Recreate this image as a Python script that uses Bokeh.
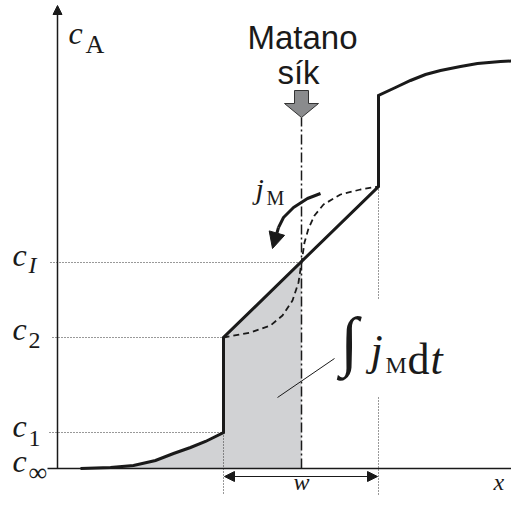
from bokeh.plotting import figure
from bokeh.models import Range1d, Arrow, NormalHead
from bokeh.core.properties import value
from bokeh.embed import file_html
from bokeh.resources import INLINE

# ---- schematic data (x: position, c: concentration, arbitrary units) ----
C_INF = 0
C1 = 36
C2 = 131
CI = 206
C_B_LOW = 282
C_B_HIGH = 373

X1 = 166   # left phase boundary
XM = 244   # Matano plane
X2 = 321   # right phase boundary

left_tail_x = [23, 53, 76, 98, 116, 133, 148, 166]
left_tail_c = [0, 1, 3, 8, 15, 21, 27, 36]
right_tail_x = [321, 338, 353, 368, 383, 403, 420, 443, 468]
right_tail_c = [373, 381, 388, 394, 398, 402, 405, 407, 408]
dashed_x = [166, 193, 213, 225, 235, 241, 244, 247, 251, 257, 266, 283, 303, 321]
dashed_c = [131, 136, 143, 153, 168, 186, 206, 226, 240, 253, 264, 274, 279, 282]
jm_arc_x = [263, 250, 236, 226, 221]
jm_arc_c = [275, 270, 261, 251, 241]

level_labels = ["I", "2", "1", "\u221e"]
level_values = [CI, C2, C1, C_INF]

SERIF = "Liberation Serif"
SANS = "Liberation Sans"
INK = "#1a1a1a"

W, H = 511, 495
p = figure(width=W, height=H,
           x_range=Range1d(-57, -57 + W), y_range=Range1d(468 - H, 468),
           output_backend="svg", toolbar_location=None,
           x_axis_type=None, y_axis_type=None, min_border=0)
p.outline_line_color = None
p.grid.visible = False
p.background_fill_color = "white"
p.border_fill_color = "white"

BASE_FIX = 0.3  # renderer places alphabetic baseline ~0.3em low


def txt(x, y, s, size, italic=False, font=SERIF, align="left", baseline="alphabetic", fix=BASE_FIX):
    p.text(x=[x], y=[y + fix * size], text=[s], text_font=value(font), text_font_size=f"{size}px",
           text_font_style="italic" if italic else "normal",
           text_align=align, text_baseline=baseline, text_color=INK)


# ---- shaded area (integral of j_M dt) ----
fill_x = left_tail_x + [X1, XM, XM, left_tail_x[0]]
fill_c = left_tail_c + [C2, CI, C_INF, C_INF]
p.patch(fill_x, fill_c, fill_color="#d1d2d4", line_color=None)

# ---- dotted guide lines ----
dot = dict(line_color="#333333", line_width=1, line_dash="1 2")
p.line([-7, XM], [CI, CI], **dot)
p.line([-5, X1], [C2, C2], **dot)
p.line([-8, X1], [C1, C1], **dot)
p.line([X1, X1], [C1, -40], **dot)
p.line([X2, X2], [C_B_LOW, 170], **dot)
p.line([X2, X2], [71, -40], **dot)

# ---- axes ----
p.line([-10, 480], [0, 0], line_color=INK, line_width=1.5)
p.add_layout(Arrow(end=NormalHead(size=9, fill_color=INK, line_color=INK, line_width=1),
                   x_start=0, y_start=0, x_end=0, y_end=463,
                   line_color=INK, line_width=1.5))

# ---- concentration profile ----
solid_x = left_tail_x + [X1, X2] + right_tail_x
solid_c = left_tail_c + [C2, C_B_LOW] + right_tail_c
p.line(solid_x, solid_c, line_color=INK, line_width=3, line_join="miter")

# dashed (real) profile
p.line(dashed_x, dashed_c, line_color=INK, line_width=1.8, line_dash="6 4")

# Matano plane
p.line([XM, XM], [C_INF, 351], line_color=INK, line_width=1.5, line_dash="10 3 2 3")

# grey arrow pointing at the Matano plane
aw, hw = 7, 17
p.patch([XM - aw, XM + aw, XM + aw, XM + hw, XM, XM - hw, XM - aw],
        [378, 378, 365, 365, 351, 365, 365],
        fill_color="#8a8b8d", line_color="#333333", line_width=1)

# j_M flux arrow
p.line(jm_arc_x, jm_arc_c, line_color=INK, line_width=3)
p.add_layout(Arrow(end=NormalHead(size=16, fill_color=INK, line_color=INK, line_width=1),
                   x_start=jm_arc_x[-1], y_start=jm_arc_c[-1], x_end=215, y_end=220,
                   line_color=INK, line_width=3))

# w double arrow
p.add_layout(Arrow(start=NormalHead(size=10, fill_color=INK, line_color=INK),
                   end=NormalHead(size=10, fill_color=INK, line_color=INK),
                   x_start=X1 + 1, y_start=-8, x_end=X2 - 1, y_end=-8,
                   line_color=INK, line_width=1.2))

# leader line
p.line([220, 277], [71, 110], line_color=INK, line_width=1)

# ---- labels ----
txt(11, 426, "c", 32, italic=True)
txt(28, 416, "A", 26)
y_main = [204, 130, 33, -2]
y_sub = [196, 121, 23, -12]
for lab, ym, ys in zip(level_labels, y_main, y_sub):
    txt(-45, ym, "c", 32, italic=True)
    txt(-29, ys, lab, 24 if lab != "\u221e" else 26, italic=(lab == "I"))

txt(245, 421, "Matano", 33, font=SANS, align="center")
txt(241, 386, "s\u00edk", 33, font=SANS, align="center")

txt(198, 271, "j", 30, italic=True)
txt(209, 265, "M", 20)

txt(283, 117, "\u222b", 66, baseline="middle", fix=0.17)
txt(313, 105, "j", 44, italic=True)
txt(328, 96, "M", 24)
txt(350, 96, "d", 44)
txt(373, 96, "t", 44, italic=True)

txt(244, -21, "w", 24, italic=True, align="center")
txt(436, -21, "x", 24, italic=True)

open("out.html", "w").write(file_html(p, INLINE))
